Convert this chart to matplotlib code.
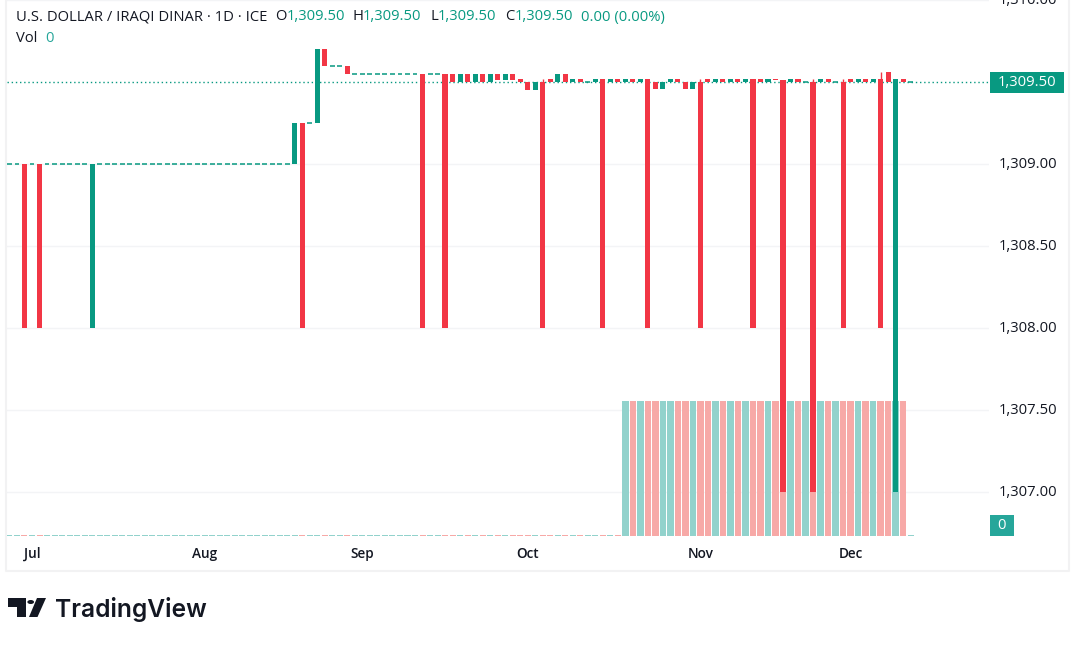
import matplotlib
matplotlib.use('Agg')
import matplotlib.pyplot as plt
from matplotlib.lines import Line2D
from matplotlib.patches import Polygon, Circle, Rectangle

W, H = 1082, 646
GREEN = '#089981'
RED = '#f23645'
TEXT = '#131722'
GRID = '#f3f4f6'

# day 0 is the first trading day of July, bars start three days before it
first_day = -3

# open and close of every bar, ten days per row from day -3
opens = [
    1309.00, 1309.00, 1309.00, 1309.00, 1309.00, 1309.00, 1309.00, 1309.00, 1309.00, 1309.00,
    1309.00, 1308.00, 1309.00, 1309.00, 1309.00, 1309.00, 1309.00, 1309.00, 1309.00, 1309.00,
    1309.00, 1309.00, 1309.00, 1309.00, 1309.00, 1309.00, 1309.00, 1309.00, 1309.00, 1309.00,
    1309.00, 1309.00, 1309.00, 1309.00, 1309.00, 1309.00, 1309.00, 1309.00, 1309.00, 1309.25,
    1309.25, 1309.25, 1309.70, 1309.60, 1309.60, 1309.60, 1309.55, 1309.55, 1309.55, 1309.55,
    1309.55, 1309.55, 1309.55, 1309.55, 1309.55, 1309.55, 1309.55, 1309.55, 1309.55, 1309.55,
    1309.50, 1309.55, 1309.50, 1309.55, 1309.50, 1309.55, 1309.51, 1309.55, 1309.52, 1309.50,
    1309.45, 1309.50, 1309.52, 1309.50, 1309.55, 1309.50, 1309.52, 1309.50, 1309.50, 1309.52,
    1309.50, 1309.52, 1309.50, 1309.52, 1309.50, 1309.52, 1309.50, 1309.46, 1309.50, 1309.52,
    1309.50, 1309.46, 1309.50, 1309.52, 1309.50, 1309.52, 1309.50, 1309.52, 1309.50, 1309.52,
    1309.52, 1309.50, 1309.52, 1309.51, 1309.50, 1309.52, 1309.50, 1309.50, 1309.50, 1309.52,
    1309.50, 1309.50, 1309.52, 1309.50, 1309.52, 1309.50, 1309.52, 1309.56, 1307.00, 1309.52,
    1309.50,
]
closes = [
    1309.00, 1309.00, 1308.00, 1309.00, 1308.00, 1309.00, 1309.00, 1309.00, 1309.00, 1309.00,
    1309.00, 1309.00, 1309.00, 1309.00, 1309.00, 1309.00, 1309.00, 1309.00, 1309.00, 1309.00,
    1309.00, 1309.00, 1309.00, 1309.00, 1309.00, 1309.00, 1309.00, 1309.00, 1309.00, 1309.00,
    1309.00, 1309.00, 1309.00, 1309.00, 1309.00, 1309.00, 1309.00, 1309.00, 1309.25, 1308.00,
    1309.25, 1309.70, 1309.60, 1309.60, 1309.60, 1309.55, 1309.55, 1309.55, 1309.55, 1309.55,
    1309.55, 1309.55, 1309.55, 1309.55, 1309.55, 1308.00, 1309.55, 1309.55, 1308.00, 1309.50,
    1309.55, 1309.50, 1309.55, 1309.50, 1309.55, 1309.51, 1309.55, 1309.51, 1309.50, 1309.45,
    1309.50, 1308.00, 1309.50, 1309.55, 1309.50, 1309.52, 1309.50, 1309.50, 1309.52, 1308.00,
    1309.52, 1309.50, 1309.52, 1309.50, 1309.52, 1308.00, 1309.46, 1309.50, 1309.52, 1309.50,
    1309.46, 1309.50, 1308.00, 1309.50, 1309.52, 1309.50, 1309.52, 1309.50, 1309.52, 1308.00,
    1309.50, 1309.52, 1309.51, 1307.00, 1309.52, 1309.50, 1309.50, 1307.00, 1309.52, 1309.50,
    1309.50, 1308.00, 1309.50, 1309.52, 1309.50, 1309.52, 1308.00, 1309.50, 1309.52, 1309.50,
    1309.50,
]
# days that carry a thin wick above the body, with its high
wick_days = [68, 89, 104, 108, 113]
wick_highs = [1309.52, 1309.52, 1309.52, 1309.52, 1309.56]

# volume is 1 from day 79 to day 116, the rest sits on the floor
vol_start, vol_end = 79, 116

month_days = [0, 23, 44, 66, 89, 109]
month_labels = ['Jul', 'Aug', 'Sep', 'Oct', 'Nov', 'Dec']
price_ticks = [1307.0, 1307.5, 1308.0, 1308.5, 1309.0, 1309.5, 1310.0]
grid_prices = [1307.0, 1307.5, 1308.0, 1308.5, 1309.0, 1310.0]
last_price = 1309.50

header = [
    (16, 'U.S. DOLLAR / IRAQI DINAR · 1D · ICE', TEXT),
    (275, 'O', TEXT), (287, '1,309.50', GREEN),
    (353, 'H', TEXT), (363, '1,309.50', GREEN),
    (430, 'L', TEXT), (438, '1,309.50', GREEN),
    (505, 'C', TEXT), (515, '1,309.50', GREEN),
    (581, '0.00 (0.00%)', GREEN),
]

plt.rcParams['font.family'] = ['Open Sans', 'DejaVu Sans']
fig = plt.figure(figsize=(W / 100, H / 100), dpi=100)

# pane in pixel terms: x 7..989, y 0..536, 164 px per price unit
px_per_day = 7.51
ax = fig.add_axes([7 / W, 1 - 536 / H, 982 / W, 536 / H])
ax.set_xlim((7 - 32) / px_per_day, (989 - 32) / px_per_day)
ax.set_ylim(1310 - 536 / 164, 1310)
ax.axis('off')
ax.set_zorder(3)

# grid goes under the volume bars, volume under the candles
base = ax.twinx()
base.set_ylim(ax.get_ylim())
base.set_zorder(1)
base.set_xticks(month_days)
base.set_yticks(grid_prices)
base.grid(True, color=GRID, linewidth=1)
base.tick_params(length=0, labelleft=False, labelright=False, labelbottom=False)
for s in base.spines.values():
    s.set_visible(False)

# full volume bars reach y=401, that is 135 px
vol = ax.twinx()
vol.set_ylim(0, 536 / 135)
vol.axis('off')
vol.set_zorder(2)

days = list(range(first_day, first_day + len(opens)))
for d, o, c in zip(days, opens, closes):
    col = RED if c < o else GREEN
    vol_col = '#f7a9a7' if c < o else '#92d2cc'
    if vol_start <= d <= vol_end:
        vol.bar(d, 1.0, width=0.87, color=vol_col, linewidth=0)
    else:
        vol.bar(d, 0.008, width=0.8, color=vol_col, linewidth=0)
    if o == c:
        ax.plot([d - 0.33, d + 0.33], [o, o], color=col, linewidth=1.1, solid_capstyle='butt')
    else:
        ax.bar(d, abs(c - o), bottom=min(o, c), width=0.68, color=col, linewidth=0)

for d, hi in zip(wick_days, wick_highs):
    ax.plot([d, d], [1309.5, hi], color=RED, linewidth=1, solid_capstyle='butt')

# last price line
ax.axhline(last_price, color=GREEN, linewidth=1, linestyle=(0, (1, 2)), zorder=0)

# frame around the chart, open at the top
frame_x = [6 / W, 6 / W, 1069 / W, 1069 / W]
frame_y = [1, 1 - 571 / H, 1 - 571 / H, 1]
fig.add_artist(Line2D(frame_x, frame_y, color='#f2f2f3', linewidth=1.5))


def put(x, y, s, **kw):
    fig.text(x / W, 1 - y / H, s, **kw)


for p in price_ticks:
    if p != last_price:
        put(1028, (1310 - p) * 164, f'{p:,.2f}', ha='center', va='center', fontsize=10.7, color=TEXT)

for d, lab in zip(month_days, month_labels):
    put(32 + d * px_per_day, 554, lab, ha='center', va='center', fontsize=9.8, color=TEXT,
        fontweight='semibold')

fig.add_artist(Rectangle((990 / W, 1 - 93 / H), 74 / W, 21 / H, transform=fig.transFigure,
                         color=GREEN, linewidth=0))
put(1027, 82.5, f'{last_price:,.2f}', ha='center', va='center', fontsize=10.7, color='white',
    fontweight='medium')
fig.add_artist(Rectangle((990 / W, 1 - 536 / H), 24 / W, 21 / H, transform=fig.transFigure,
                         color='#26a69a', linewidth=0))
put(1002, 525.5, '0', ha='center', va='center', fontsize=10.7, color='white')

for x, s, col in header:
    put(x, 17, s, ha='left', va='center', fontsize=10.6, color=col)
put(16, 38, 'Vol', ha='left', va='center', fontsize=10.6, color=TEXT)
put(45, 38, '0', ha='left', va='center', fontsize=10.6, color='#26a69a')

# TradingView logo
logo = '#131722'
fig.add_artist(Polygon([(8 / W, 1 - 598 / H), (26 / W, 1 - 598 / H), (26 / W, 1 - 617 / H),
                        (17 / W, 1 - 617 / H), (17 / W, 1 - 607 / H), (8 / W, 1 - 607 / H)],
                       transform=fig.transFigure, color=logo, linewidth=0))
fig.add_artist(Circle((30.7 / W, 1 - 602 / H), 0.0031, transform=fig.transFigure, color=logo, linewidth=0))
fig.add_artist(Polygon([(37 / W, 1 - 598 / H), (46 / W, 1 - 598 / H), (37.5 / W, 1 - 617 / H),
                        (29 / W, 1 - 617 / H)],
                       transform=fig.transFigure, color=logo, linewidth=0))
put(55, 617, 'TradingView', ha='left', va='baseline', fontsize=17.7, color=logo,
    family='Inter', fontweight='semibold')

fig.savefig('out.png', dpi=100)
